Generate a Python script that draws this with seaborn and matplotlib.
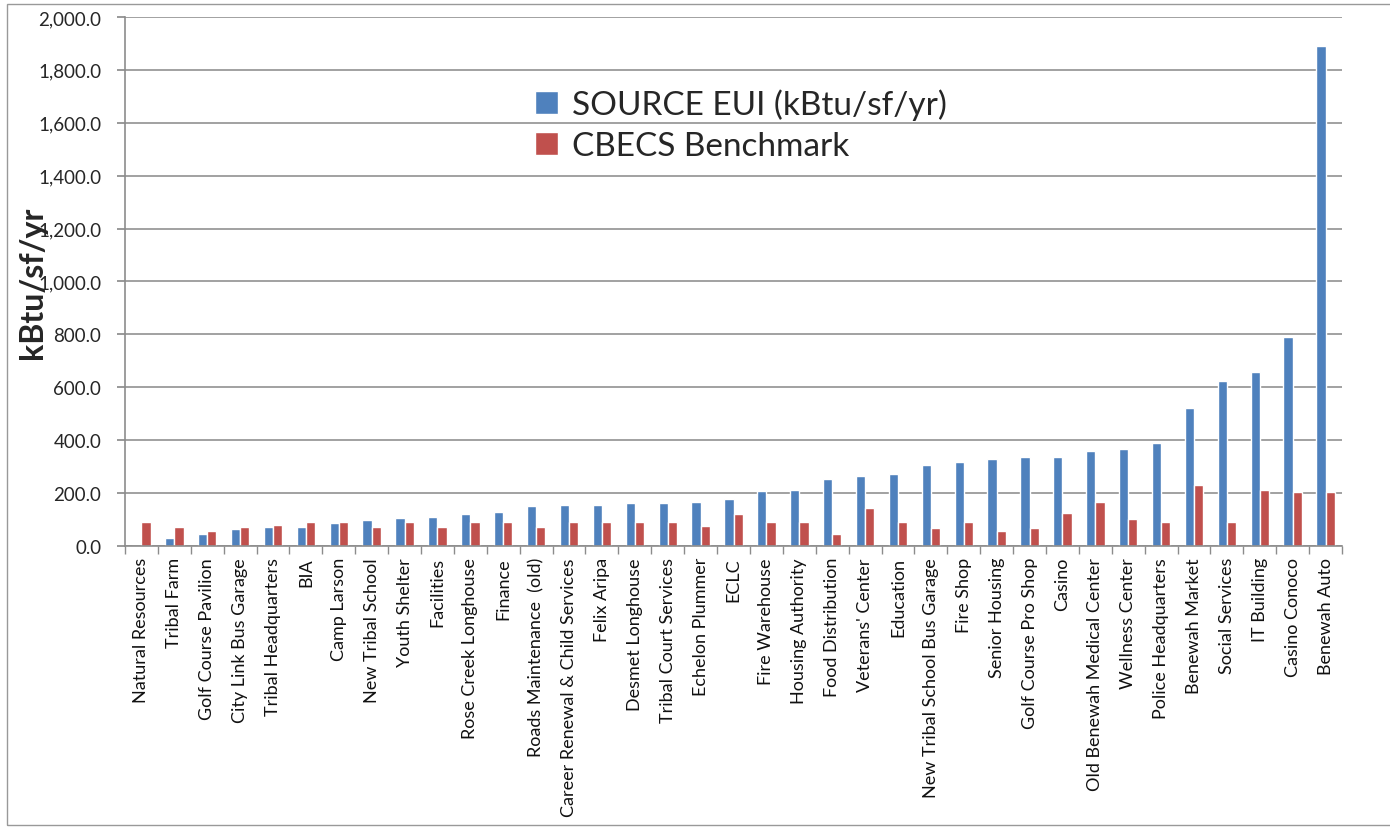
import seaborn as sns
import matplotlib.pyplot as plt
import pandas as pd
from matplotlib.ticker import FuncFormatter, FixedLocator

buildings = [
    "Natural Resources", "Tribal Farm", "Golf Course Pavilion", "City Link Bus Garage",
    "Tribal Headquarters", "BIA", "Camp Larson", "New Tribal School", "Youth Shelter",
    "Facilities", "Rose Creek Longhouse", "Finance", "Roads Maintenance  (old)",
    "Career Renewal & Child Services", "Felix Aripa", "Desmet Longhouse",
    "Tribal Court Services", "Echelon Plummer", "ECLC", "Fire Warehouse",
    "Housing Authority", "Food Distribution", "Veterans' Center", "Education",
    "New Tribal School Bus Garage", "Fire Shop", "Senior Housing", "Golf Course Pro Shop",
    "Casino", "Old Benewah Medical Center", "Wellness Center", "Police Headquarters",
    "Benewah Market", "Social Services", "IT Building", "Casino Conoco", "Benewah Auto",
]
source_eui = [0, 30, 47, 63, 70, 70, 87, 99, 104, 110, 122, 127, 151, 156, 156, 161, 161,
              167, 178, 207, 213, 252, 265, 271, 306, 316, 329, 335, 335, 359, 366, 389,
              520, 624, 658, 791, 1892]
cbecs = [92, 70, 58, 70, 81, 92, 92, 70, 92, 70, 92, 92, 70, 92, 92, 92, 92, 76, 120, 90,
         90, 45, 144, 90, 68, 90, 56, 68, 126, 165, 102, 90, 229, 90, 212, 205, 205]
series_names = ["SOURCE EUI (kBtu/sf/yr)", "CBECS Benchmark"]
colors = ["#4F81BD", "#C0504D"]

df = pd.DataFrame({"building": buildings, series_names[0]: source_eui, series_names[1]: cbecs})
long_df = df.melt(id_vars="building", var_name="series", value_name="value")

sns.set_theme(style="white")
plt.rcParams["font.family"] = ["Lato", "DejaVu Sans"]

fig = plt.figure(figsize=(13.9, 8.28), dpi=100)
ax = fig.add_axes([0.0899, 0.3394, 0.8756, 0.6389])

sns.barplot(data=long_df, x="building", y="value", hue="series", palette=colors,
            saturation=1, width=0.56, ax=ax, errorbar=None)

# axes styling
ax.set_xlim(-0.5, len(buildings) - 0.5)
ax.set_ylim(0, 2000)
ax.yaxis.set_major_locator(FixedLocator(range(0, 2001, 200)))
ax.yaxis.set_major_formatter(FuncFormatter(lambda v, p: f"{v:,.1f}"))
ax.yaxis.grid(True, color="#9a9a9a", lw=1.3)
ax.set_axisbelow(True)
for s in ["top", "right"]:
    ax.spines[s].set_visible(False)
for s in ["left", "bottom"]:
    ax.spines[s].set_color("#8c8c8c")
    ax.spines[s].set_linewidth(1.2)

ax.tick_params(axis="y", left=True, length=6, color="#8c8c8c", labelsize=13.5,
               labelcolor="#262626", pad=11)
ax.set_xticks(range(len(buildings)))
ax.set_xticklabels(buildings, rotation=90, fontsize=13, color="#111111")
ax.tick_params(axis="x", which="major", length=0, pad=8)
ax.set_xticks([i - 0.5 for i in range(len(buildings) + 1)], minor=True)
ax.tick_params(axis="x", which="minor", bottom=True, length=6, color="#8c8c8c")

ax.set_xlabel("")
ax.set_ylabel("kBtu/sf/yr", fontsize=23, fontweight="bold", labelpad=-6)

ax.legend(loc="upper left", bbox_to_anchor=(0.373, 0.912), bbox_transform=fig.transFigure,
          frameon=False, fontsize=24, handlelength=0.7, handleheight=0.7,
          handletextpad=0.4, labelspacing=0.33, borderpad=0)

# outer frame
fig.patches.append(plt.Rectangle((0.005, 0.003), 1.0, 0.991, transform=fig.transFigure,
                                 fill=False, ec="#999999", lw=1))

fig.savefig("out.png", dpi=100)
